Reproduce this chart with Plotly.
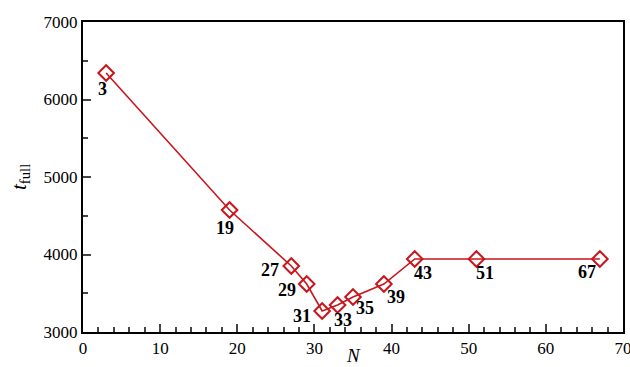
import plotly.graph_objects as go

N = [3, 19, 27, 29, 31, 33, 35, 39, 43, 51, 67]
t_full = [6342, 4574, 3852, 3619, 3271, 3348, 3452, 3619, 3942, 3942, 3942]
labels = [str(n) for n in N]
# label offsets in pixels (dx, dy downwards)
offsets = [(-4, 16), (-5, 18), (-21, 4), (-20, 6), (-20, 5), (5, 15),
           (12, 11), (12, 13), (8, 14), (9, 14), (-13, 13)]

red = "#c8161d"
font = "Liberation Serif"

fig = go.Figure()
fig.add_trace(go.Scatter(
    x=N, y=t_full, mode="lines+markers",
    line=dict(color=red, width=1.6),
    marker=dict(symbol="diamond-open", size=12, color=red, line=dict(width=2, color=red)),
    showlegend=False,
))
for x, y, lab, (dx, dy) in zip(N, t_full, labels, offsets):
    fig.add_annotation(x=x, y=y, text="<b>%s</b>" % lab, showarrow=False,
                       xshift=dx, yshift=-dy,
                       font=dict(family=font, size=18, color="black"))

# axis titles
fig.add_annotation(xref="paper", yref="paper", x=0.5, y=0, yshift=-23,
                   yanchor="middle", text="<i>N</i>", showarrow=False,
                   font=dict(family=font, size=19, color="black"))
fig.add_annotation(xref="paper", yref="paper", x=0, y=0.5, xshift=-63,
                   xanchor="center", text="<i>t</i><sub>full</sub>", showarrow=False,
                   textangle=-90, font=dict(family=font, size=21, color="black"))

fig.update_layout(
    width=630, height=367,
    margin=dict(l=83, r=7, t=22, b=35),
    paper_bgcolor="white", plot_bgcolor="white",
    font=dict(family=font, size=16, color="black"),
)
fig.update_xaxes(
    range=[0, 70], dtick=10, ticks="inside", ticklen=8, tickwidth=1.5,
    showline=True, linecolor="black", linewidth=2, mirror=True,
    showgrid=False, zeroline=False, automargin=False,
    ticklabeloverflow="allow",
    minor=dict(dtick=2, ticks="inside", ticklen=5, tickwidth=1.5, showgrid=False),
    tickfont=dict(size=17),
)
fig.update_yaxes(
    range=[3000, 7000], dtick=1000, ticks="inside", ticklen=8, tickwidth=1.5,
    showline=True, linecolor="black", linewidth=2, mirror=True,
    showgrid=False, zeroline=False, automargin=False,
    ticklabeloverflow="allow",
    minor=dict(dtick=500, ticks="inside", ticklen=5, tickwidth=1.5, showgrid=False),
    tickfont=dict(size=17),
)
fig.write_html("out.html")
